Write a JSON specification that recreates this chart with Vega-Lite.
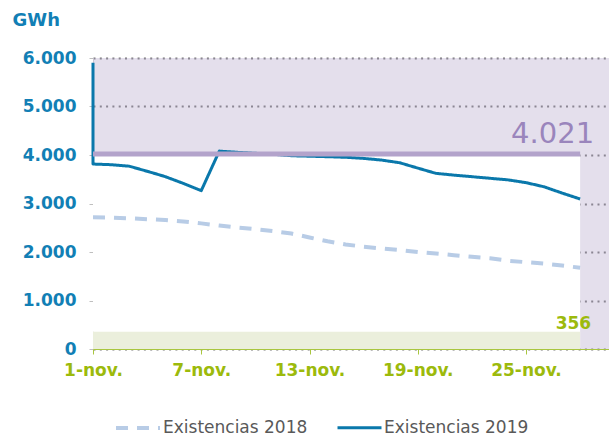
{
  "$schema": "https://vega.github.io/schema/vega-lite/v6.json",
  "autosize": "none",
  "width": 516,
  "height": 291,
  "padding": {"left": 93, "top": 58, "right": 0, "bottom": 86},
  "background": "white",
  "config": {
    "view": {"stroke": null},
    "font": "DejaVu Sans"
  },
  "datasets": {
    "series": [
      {"dia": 1, "valor": 2715, "serie": "Existencias 2018", "orden": 1},
      {"dia": 2, "valor": 2710, "serie": "Existencias 2018", "orden": 2},
      {"dia": 3, "valor": 2695, "serie": "Existencias 2018", "orden": 3},
      {"dia": 4, "valor": 2675, "serie": "Existencias 2018", "orden": 4},
      {"dia": 5, "valor": 2660, "serie": "Existencias 2018", "orden": 5},
      {"dia": 6, "valor": 2630, "serie": "Existencias 2018", "orden": 6},
      {"dia": 7, "valor": 2590, "serie": "Existencias 2018", "orden": 7},
      {"dia": 8, "valor": 2545, "serie": "Existencias 2018", "orden": 8},
      {"dia": 9, "valor": 2505, "serie": "Existencias 2018", "orden": 9},
      {"dia": 10, "valor": 2470, "serie": "Existencias 2018", "orden": 10},
      {"dia": 11, "valor": 2430, "serie": "Existencias 2018", "orden": 11},
      {"dia": 12, "valor": 2380, "serie": "Existencias 2018", "orden": 12},
      {"dia": 13, "valor": 2300, "serie": "Existencias 2018", "orden": 13},
      {"dia": 14, "valor": 2220, "serie": "Existencias 2018", "orden": 14},
      {"dia": 15, "valor": 2155, "serie": "Existencias 2018", "orden": 15},
      {"dia": 16, "valor": 2110, "serie": "Existencias 2018", "orden": 16},
      {"dia": 17, "valor": 2072, "serie": "Existencias 2018", "orden": 17},
      {"dia": 18, "valor": 2040, "serie": "Existencias 2018", "orden": 18},
      {"dia": 19, "valor": 2000, "serie": "Existencias 2018", "orden": 19},
      {"dia": 20, "valor": 1970, "serie": "Existencias 2018", "orden": 20},
      {"dia": 21, "valor": 1935, "serie": "Existencias 2018", "orden": 21},
      {"dia": 22, "valor": 1900, "serie": "Existencias 2018", "orden": 22},
      {"dia": 23, "valor": 1870, "serie": "Existencias 2018", "orden": 23},
      {"dia": 24, "valor": 1820, "serie": "Existencias 2018", "orden": 24},
      {"dia": 25, "valor": 1790, "serie": "Existencias 2018", "orden": 25},
      {"dia": 26, "valor": 1760, "serie": "Existencias 2018", "orden": 26},
      {"dia": 27, "valor": 1720, "serie": "Existencias 2018", "orden": 27},
      {"dia": 28, "valor": 1676, "serie": "Existencias 2018", "orden": 28},
      {"dia": 1, "valor": 5900, "serie": "Existencias 2019", "orden": 0},
      {"dia": 1, "valor": 3814, "serie": "Existencias 2019", "orden": 1},
      {"dia": 2, "valor": 3800, "serie": "Existencias 2019", "orden": 2},
      {"dia": 3, "valor": 3770, "serie": "Existencias 2019", "orden": 3},
      {"dia": 4, "valor": 3665, "serie": "Existencias 2019", "orden": 4},
      {"dia": 5, "valor": 3555, "serie": "Existencias 2019", "orden": 5},
      {"dia": 6, "valor": 3415, "serie": "Existencias 2019", "orden": 6},
      {"dia": 7, "valor": 3265, "serie": "Existencias 2019", "orden": 7},
      {"dia": 8, "valor": 4080, "serie": "Existencias 2019", "orden": 8},
      {"dia": 9, "valor": 4055, "serie": "Existencias 2019", "orden": 9},
      {"dia": 10, "valor": 4035, "serie": "Existencias 2019", "orden": 10},
      {"dia": 11, "valor": 4015, "serie": "Existencias 2019", "orden": 11},
      {"dia": 12, "valor": 3985, "serie": "Existencias 2019", "orden": 12},
      {"dia": 13, "valor": 3975, "serie": "Existencias 2019", "orden": 13},
      {"dia": 14, "valor": 3965, "serie": "Existencias 2019", "orden": 14},
      {"dia": 15, "valor": 3953, "serie": "Existencias 2019", "orden": 15},
      {"dia": 16, "valor": 3930, "serie": "Existencias 2019", "orden": 16},
      {"dia": 17, "valor": 3895, "serie": "Existencias 2019", "orden": 17},
      {"dia": 18, "valor": 3840, "serie": "Existencias 2019", "orden": 18},
      {"dia": 19, "valor": 3730, "serie": "Existencias 2019", "orden": 19},
      {"dia": 20, "valor": 3622, "serie": "Existencias 2019", "orden": 20},
      {"dia": 21, "valor": 3585, "serie": "Existencias 2019", "orden": 21},
      {"dia": 22, "valor": 3553, "serie": "Existencias 2019", "orden": 22},
      {"dia": 23, "valor": 3520, "serie": "Existencias 2019", "orden": 23},
      {"dia": 24, "valor": 3487, "serie": "Existencias 2019", "orden": 24},
      {"dia": 25, "valor": 3430, "serie": "Existencias 2019", "orden": 25},
      {"dia": 26, "valor": 3345, "serie": "Existencias 2019", "orden": 26},
      {"dia": 27, "valor": 3215, "serie": "Existencias 2019", "orden": 27},
      {"dia": 28, "valor": 3093, "serie": "Existencias 2019", "orden": 28}
    ],
    "zonas": [
      {"zona": "blanco", "desde": 1, "hasta": 28, "min": 356, "max": 4021},
      {"zona": "morado", "desde": 1, "hasta": 28, "min": 4021, "max": 6000},
      {"zona": "morado", "desde": 28, "hasta": 29.6, "min": 0, "max": 6000},
      {"zona": "verde", "desde": 1, "hasta": 28, "min": 0, "max": 356}
    ],
    "umbral": [
      {"desde": 1, "hasta": 28, "valor": 4021, "etiqueta": "4.021"}
    ],
    "minimo": [
      {"dia": 28, "valor": 356, "etiqueta": "356"}
    ]
  },
  "layer": [
    {
      "data": {"name": "zonas"},
      "transform": [{"filter": "datum.zona === 'blanco'"}],
      "mark": {"type": "rect", "strokeWidth": 0, "fill": "#ffffff"},
      "encoding": {
        "x": {
          "field": "desde", "type": "quantitative",
          "scale": {"domain": [1, 29.6], "nice": false, "zero": false},
          "axis": {
            "values": [1, 7, 13, 19, 25],
            "labelExpr": "datum.value + '-nov.'",
            "title": null,
            "grid": false,
            "zindex": 1,
            "domainColor": "#a9c63f",
            "tickColor": "#a9c63f",
            "tickSize": 5,
            "labelColor": "#9cba0c",
            "labelFont": "DejaVu Sans",
            "labelFontSize": 17,
            "labelFontWeight": "bold",
            "labelPadding": 8,
            "labelFlush": false
          }
        },
        "x2": {"field": "hasta"},
        "y": {
          "field": "min", "type": "quantitative",
          "scale": {"domain": [0, 6000], "nice": false},
          "axis": {
            "values": [0, 1000, 2000, 3000, 4000, 5000, 6000],
            "labelExpr": "replace(format(datum.value, ','), ',', '.')",
            "grid": true,
            "gridColor": "#777777",
            "gridDash": [2, 4.3],
            "gridWidth": 2,
            "domainColor": "#d9d9d9",
            "tickColor": "#bfbfbf",
            "tickSize": 4,
            "labelColor": "#127fb5",
            "labelFont": "DejaVu Sans",
            "labelFontSize": 17,
            "labelFontWeight": "bold",
            "labelPadding": 13,
            "title": "GWh",
            "titleAngle": 0,
            "titleAlign": "left",
            "titleBaseline": "alphabetic",
            "titleX": -81,
            "titleY": -33,
            "titleColor": "#127fb5",
            "titleFont": "DejaVu Sans",
            "titleFontSize": 18,
            "titleFontWeight": "bold"
          }
        },
        "y2": {"field": "max"}
      }
    },
    {
      "data": {"name": "zonas"},
      "transform": [{"filter": "datum.zona === 'morado'"}],
      "mark": {"type": "rect", "strokeWidth": 0, "fill": "#b2a4c9", "fillOpacity": 0.35},
      "encoding": {
        "x": {"field": "desde", "type": "quantitative"},
        "x2": {"field": "hasta"},
        "y": {"field": "min", "type": "quantitative"},
        "y2": {"field": "max"}
      }
    },
    {
      "data": {"name": "zonas"},
      "transform": [{"filter": "datum.zona === 'verde'"}],
      "mark": {"type": "rect", "strokeWidth": 0, "fill": "#ebefdc"},
      "encoding": {
        "x": {"field": "desde", "type": "quantitative"},
        "x2": {"field": "hasta"},
        "y": {"field": "min", "type": "quantitative"},
        "y2": {"field": "max"}
      }
    },
    {
      "data": {"name": "series"},
      "mark": {"type": "line", "strokeCap": "butt", "strokeJoin": "round"},
      "encoding": {
        "x": {"field": "dia", "type": "quantitative"},
        "y": {"field": "valor", "type": "quantitative"},
        "order": {"field": "orden", "type": "quantitative"},
        "color": {
          "field": "serie", "type": "nominal",
          "scale": {"domain": ["Existencias 2018", "Existencias 2019"], "range": ["#b8cce6", "#0a78ab"]},
          "legend": {
            "orient": "none",
            "legendX": 21,
            "legendY": 346,
            "direction": "horizontal",
            "title": null,
            "symbolType": "stroke",
            "symbolSize": 1936,
            "symbolStrokeWidth": 3.5,
            "labelFontSize": 17,
            "labelColor": "#595959",
            "labelFont": "DejaVu Sans",
            "labelOffset": 1,
            "columnPadding": 23,
            "padding": 0
          }
        },
        "strokeDash": {
          "field": "serie", "type": "nominal",
          "scale": {"domain": ["Existencias 2018", "Existencias 2019"], "range": [[12, 9], [1, 0]]},
          "legend": {
            "orient": "none",
            "legendX": 21,
            "legendY": 346,
            "direction": "horizontal",
            "title": null,
            "symbolType": "stroke",
            "symbolSize": 1936,
            "symbolStrokeWidth": 3.5,
            "labelFontSize": 17,
            "labelColor": "#595959",
            "labelFont": "DejaVu Sans",
            "labelOffset": 1,
            "columnPadding": 23,
            "padding": 0
          }
        },
        "strokeWidth": {
          "field": "serie", "type": "nominal",
          "scale": {"domain": ["Existencias 2018", "Existencias 2019"], "range": [4, 3]},
          "legend": null
        }
      }
    },
    {
      "data": {"name": "umbral"},
      "mark": {"type": "rule", "color": "#b3a3cb", "strokeWidth": 5},
      "encoding": {
        "x": {"field": "desde", "type": "quantitative"},
        "x2": {"field": "hasta"},
        "y": {"field": "valor", "type": "quantitative"}
      }
    },
    {
      "data": {"name": "umbral"},
      "mark": {"type": "text", "align": "right", "baseline": "alphabetic", "dx": 14, "dy": -11, "fontSize": 29, "font": "DejaVu Sans", "color": "#9a85bc"},
      "encoding": {
        "x": {"field": "hasta", "type": "quantitative"},
        "y": {"field": "valor", "type": "quantitative"},
        "text": {"field": "etiqueta"}
      }
    },
    {
      "data": {"name": "minimo"},
      "mark": {"type": "text", "align": "right", "baseline": "alphabetic", "dx": 11, "dy": -3, "fontSize": 17, "fontWeight": "bold", "font": "DejaVu Sans", "color": "#9cba0c"},
      "encoding": {
        "x": {"field": "dia", "type": "quantitative"},
        "y": {"field": "valor", "type": "quantitative"},
        "text": {"field": "etiqueta"}
      }
    }
  ]
}
